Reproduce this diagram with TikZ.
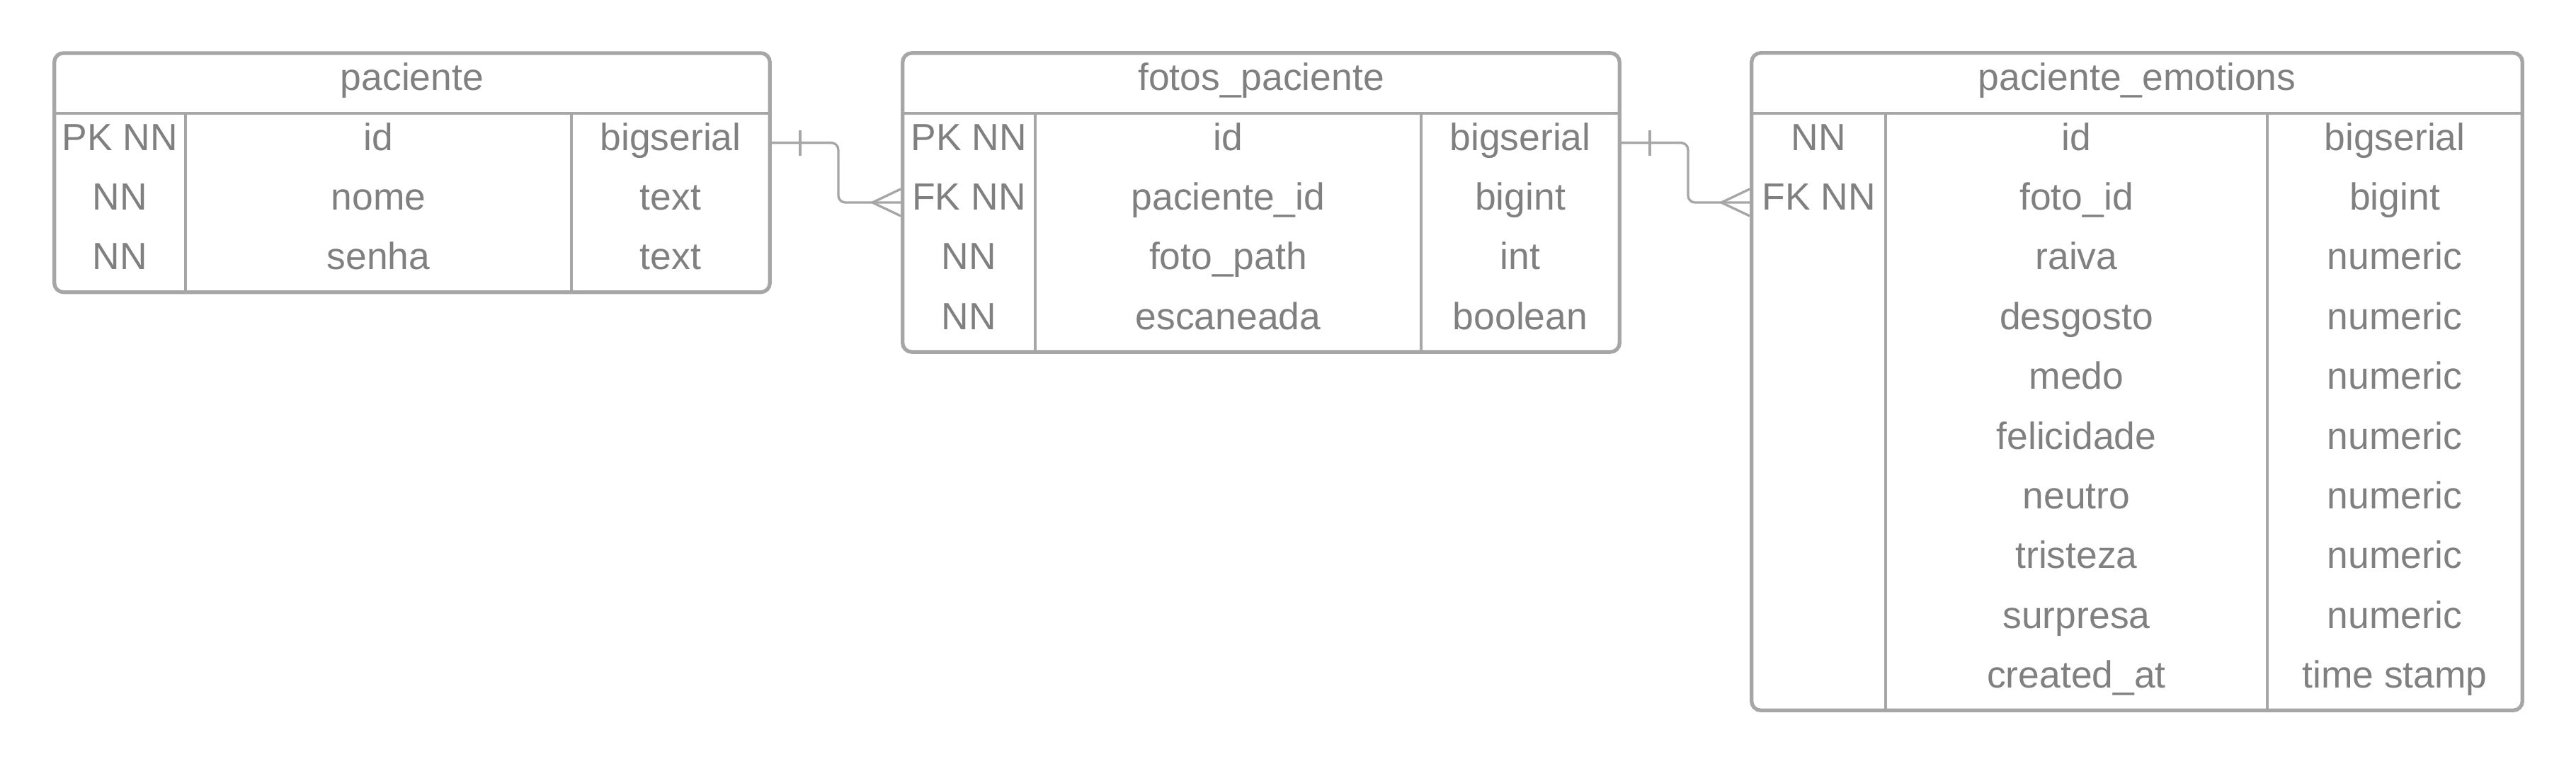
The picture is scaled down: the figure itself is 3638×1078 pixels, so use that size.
\documentclass[tikz,border=0pt]{standalone}
\usepackage{fontspec}
\setmainfont{Liberation Sans}
\usepackage{xcolor}
\usetikzlibrary{positioning}

\definecolor{txtgray}{HTML}{808080}
\definecolor{linegray}{HTML}{A6A6A6}

\begin{document}
\begin{tikzpicture}[x=0.01cm, y=-0.01cm,
            tbl/.style={draw=linegray, line width=1.5pt, rounded corners=0.13cm, inner sep=0pt},
            head/.style={text=txtgray, font=\fontsize{15.2}{18}\selectfont, text height=0.38cm, text depth=0.17cm, inner sep=0pt, minimum height=0.844cm},
            cell/.style={text=txtgray, font=\fontsize{15.2}{18}\selectfont, text height=0.38cm, text depth=0.17cm, inner sep=0pt},
            rule/.style={draw=linegray, line width=1.2pt},
            rel/.style={draw=linegray, line width=0.95pt}]
            \useasboundingbox (0,0) rectangle (3638,1078);

            % paciente
            \node[tbl, minimum width=10.1cm, minimum height=3.376cm] (paciente) at (582, 243.8) {};
            \node[head, minimum width=10.1cm] (ph) at (582, 117.2) {paciente};
            \draw[rule] (ph.south west) -- (ph.south east);
            \draw[rule] (ph.south -| 262,0) -- (paciente.south -| 262,0);
            \draw[rule] (ph.south -| 807,0) -- (paciente.south -| 807,0);
            \node[cell] (pk1) at (169.5, 201.6) {PK NN};
            \node[cell] (pn1) at (534.5, 201.6) {id};
            \node[cell] (pt1) at (947, 201.6) {bigserial};
            \node[cell] (pk2) at (169.5, 286) {NN};
            \node[cell] (pn2) at (534.5, 286) {nome};
            \node[cell] (pt2) at (947, 286) {text};
            \node[cell] (pk3) at (169.5, 370.4) {NN};
            \node[cell] (pn3) at (534.5, 370.4) {senha};
            \node[cell] (pt3) at (947, 370.4) {text};

            % fotos_paciente
            \node[tbl, minimum width=10.12cm, minimum height=4.22cm] (fotos) at (1781, 286) {};
            \node[head, minimum width=10.12cm] (fh) at (1781, 117.2) {fotos\_paciente};
            \draw[rule] (fh.south west) -- (fh.south east);
            \draw[rule] (fh.south -| 1462,0) -- (fotos.south -| 1462,0);
            \draw[rule] (fh.south -| 2007,0) -- (fotos.south -| 2007,0);
            \node[cell] (fk1) at (1368.5, 201.6) {PK NN};
            \node[cell] (fn1) at (1734.5, 201.6) {id};
            \node[cell] (ft1) at (2147, 201.6) {bigserial};
            \node[cell] (fk2) at (1368.5, 286) {FK NN};
            \node[cell] (fn2) at (1734.5, 286) {paciente\_id};
            \node[cell] (ft2) at (2147, 286) {bigint};
            \node[cell] (fk3) at (1368.5, 370.4) {NN};
            \node[cell] (fn3) at (1734.5, 370.4) {foto\_path};
            \node[cell] (ft3) at (2147, 370.4) {int};
            \node[cell] (fk4) at (1368.5, 454.8) {NN};
            \node[cell] (fn4) at (1734.5, 454.8) {escaneada};
            \node[cell] (ft4) at (2147, 454.8) {boolean};

            % paciente_emotions
            \node[tbl, minimum width=10.88cm, minimum height=9.28cm] (emotions) at (3018, 539) {};
            \node[head, minimum width=10.88cm] (eh) at (3018, 117.2) {paciente\_emotions};
            \draw[rule] (eh.south west) -- (eh.south east);
            \draw[rule] (eh.south -| 2663,0) -- (emotions.south -| 2663,0);
            \draw[rule] (eh.south -| 3202,0) -- (emotions.south -| 3202,0);
            \node[cell] (ek1) at (2568.5, 201.6) {NN};
            \node[cell] (en1) at (2932.5, 201.6) {id};
            \node[cell] (et1) at (3382, 201.6) {bigserial};
            \node[cell] (ek2) at (2568.5, 286) {FK NN};
            \node[cell] (en2) at (2932.5, 286) {foto\_id};
            \node[cell] (et2) at (3382, 286) {bigint};
            \node[cell] (en3) at (2932.5, 370.4) {raiva};
            \node[cell] (et3) at (3382, 370.4) {numeric};
            \node[cell] (en4) at (2932.5, 454.8) {desgosto};
            \node[cell] (et4) at (3382, 454.8) {numeric};
            \node[cell] (en5) at (2932.5, 539.2) {medo};
            \node[cell] (et5) at (3382, 539.2) {numeric};
            \node[cell] (en6) at (2932.5, 623.6) {felicidade};
            \node[cell] (et6) at (3382, 623.6) {numeric};
            \node[cell] (en7) at (2932.5, 708) {neutro};
            \node[cell] (et7) at (3382, 708) {numeric};
            \node[cell] (en8) at (2932.5, 792.4) {tristeza};
            \node[cell] (et8) at (3382, 792.4) {numeric};
            \node[cell] (en9) at (2932.5, 876.8) {surpresa};
            \node[cell] (et9) at (3382, 876.8) {numeric};
            \node[cell] (en10) at (2932.5, 961.2) {created\_at};
            \node[cell] (et10) at (3382, 961.2) {time stamp};

            % relations
            \coordinate (a1) at (paciente.east |- pt1);
            \coordinate (b1) at (fotos.west |- fk2);
            \draw[rel, rounded corners=0.1cm] (a1) -- ++(94,0) |- (b1);
            \draw[rel] ([xshift=0.4cm, yshift=0.18cm]a1) -- ([xshift=0.4cm, yshift=-0.18cm]a1);
            \draw[rel] ([yshift=0.19cm]b1) -- ([xshift=-0.4cm]b1) -- ([yshift=-0.19cm]b1);

            \coordinate (a2) at (fotos.east |- ft1);
            \coordinate (b2) at (emotions.west |- ek2);
            \draw[rel, rounded corners=0.1cm] (a2) -- ++(94,0) |- (b2);
            \draw[rel] ([xshift=0.4cm, yshift=0.18cm]a2) -- ([xshift=0.4cm, yshift=-0.18cm]a2);
            \draw[rel] ([yshift=0.19cm]b2) -- ([xshift=-0.4cm]b2) -- ([yshift=-0.19cm]b2);
        \end{tikzpicture}
\end{document}
